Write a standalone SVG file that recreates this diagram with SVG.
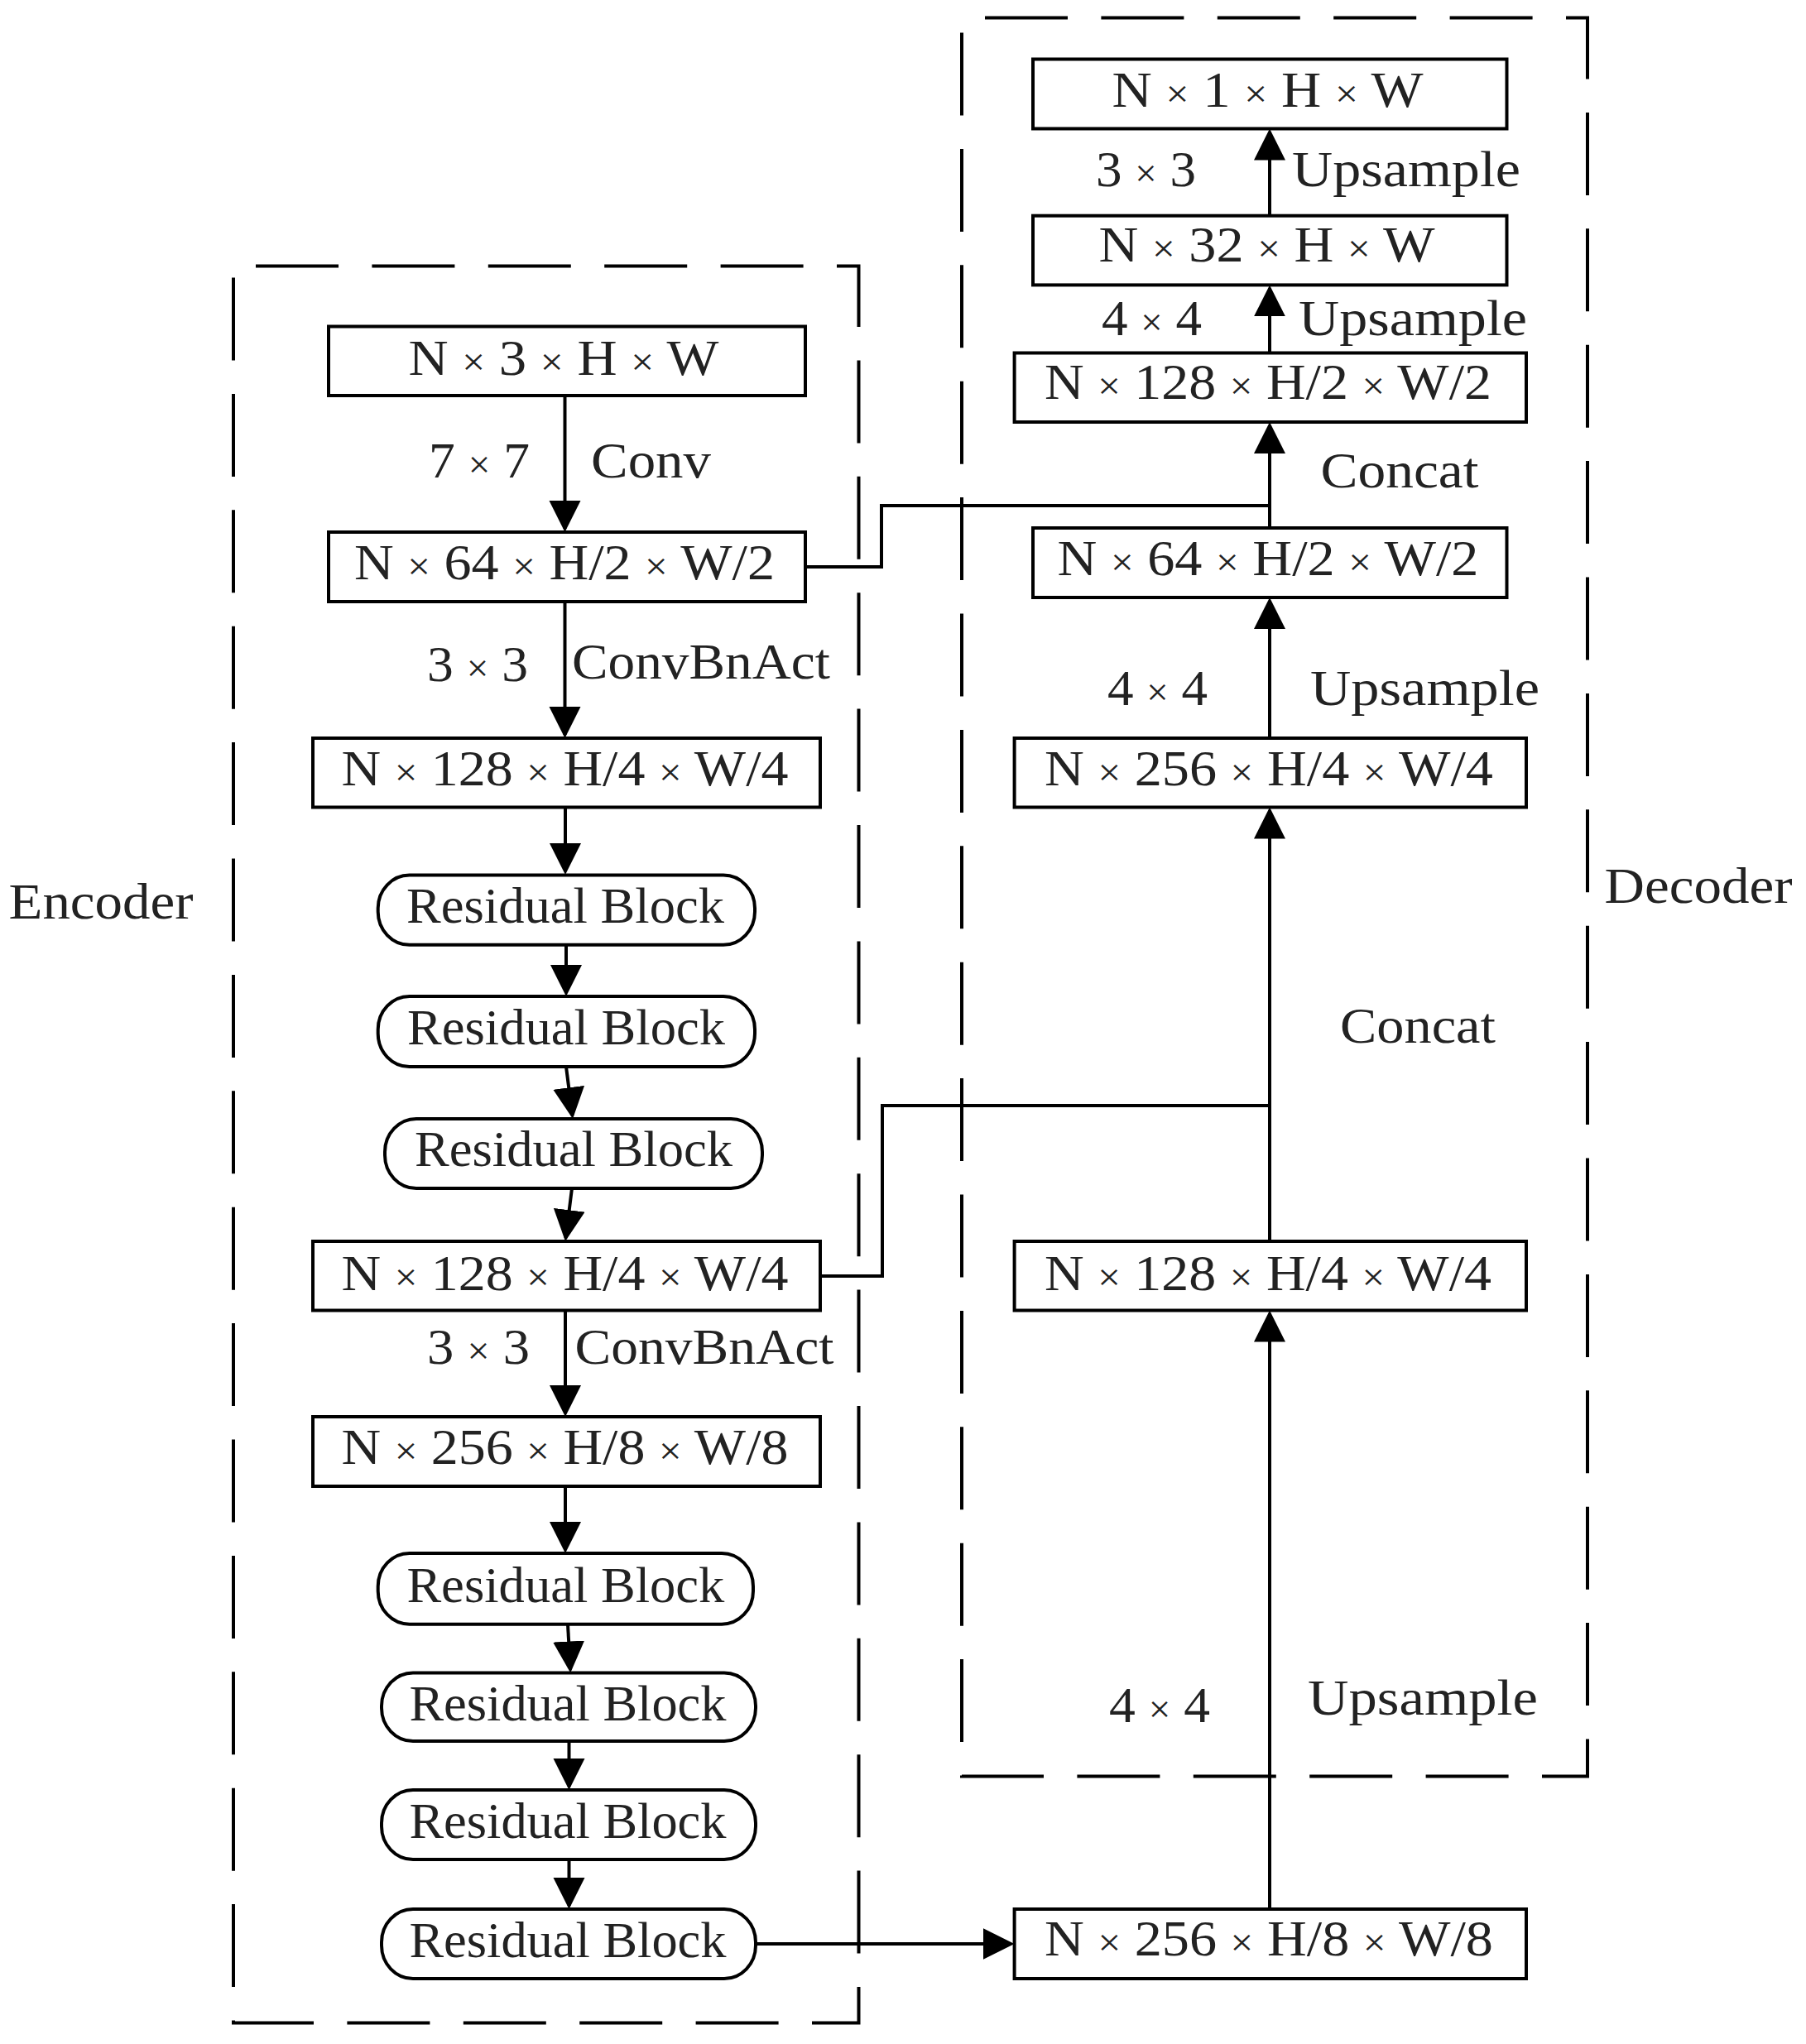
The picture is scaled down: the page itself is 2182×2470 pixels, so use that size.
<svg xmlns="http://www.w3.org/2000/svg" width="2182" height="2470" viewBox="0 0 2182 2470">
<style>
.bg{fill:#ffffff}
.box{fill:#ffffff;stroke:#000;stroke-width:4}
.rb{fill:#ffffff;stroke:#000;stroke-width:4}
.frame{fill:none;stroke:#000;stroke-width:4;stroke-dasharray:100 40.4}
.conn{fill:none;stroke:#000;stroke-width:4}
.t{font-family:"Liberation Serif","Times New Roman",serif;font-size:62px;fill:#222}
.m{text-anchor:middle}
.x{font-size:46px}
</style>
<defs>
<marker id="arr" markerUnits="userSpaceOnUse" markerWidth="40" markerHeight="40" refX="34" refY="19" orient="auto">
<path d="M0,0 L38,19 L0,38 Z" fill="#000"/>
</marker>
</defs>
<rect class="bg" x="0" y="0" width="2182" height="2470"/>

<g id="encoder-frame">
<path class="frame" d="M309,321.5 H1037.5 V2444.5 H282 V321.5"/>
<text class="t" x="10.5" y="1110" textLength="223" lengthAdjust="spacingAndGlyphs">Encoder</text>
</g>
<g id="decoder-frame">
<path class="frame" d="M1190,21.5 H1918 V2146.5 H1162 V21.5"/>
<text class="t" x="1938.5" y="1091" textLength="227" lengthAdjust="spacingAndGlyphs">Decoder</text>
</g>

<g id="connectors">
<path class="conn" d="M682.5,478 V639" marker-end="url(#arr)"/>
<path class="conn" d="M682.5,727 V888" marker-end="url(#arr)"/>
<path class="conn" d="M683,975.5 V1053" marker-end="url(#arr)"/>
<path class="conn" d="M684,1142 V1200" marker-end="url(#arr)"/>
<path class="conn" d="M684,1289 L691.5,1348" marker-end="url(#arr)"/>
<path class="conn" d="M691,1436 L683.5,1496" marker-end="url(#arr)"/>
<path class="conn" d="M683,1583.5 V1708" marker-end="url(#arr)"/>
<path class="conn" d="M683,1796 V1873" marker-end="url(#arr)"/>
<path class="conn" d="M686,1963 L689,2017.5" marker-end="url(#arr)"/>
<path class="conn" d="M687.5,2104 V2159" marker-end="url(#arr)"/>
<path class="conn" d="M687.5,2247 V2303" marker-end="url(#arr)"/>
<path class="conn" d="M913,2349 H1221.6" marker-end="url(#arr)"/>
<path class="conn" d="M1534,2307 V1587.5" marker-end="url(#arr)"/>
<path class="conn" d="M1534,1500 V979.5" marker-end="url(#arr)"/>
<path class="conn" d="M1534,892 V726" marker-end="url(#arr)"/>
<path class="conn" d="M1534,638 V514" marker-end="url(#arr)"/>
<path class="conn" d="M1534,426.5 V348.4" marker-end="url(#arr)"/>
<path class="conn" d="M1534,260.7 V159.6" marker-end="url(#arr)"/>
<path class="conn" d="M973,685 H1065 V611 H1534"/>
<path class="conn" d="M991,1542 H1066 V1336 H1534"/>
</g>

<g id="edge-labels">
<text class="t m" x="579" y="577" textLength="122" lengthAdjust="spacingAndGlyphs">7 <tspan class="x">×</tspan> 7</text>
<text class="t" x="714" y="577" textLength="145" lengthAdjust="spacingAndGlyphs">Conv</text>
<text class="t m" x="577" y="823" textLength="122" lengthAdjust="spacingAndGlyphs">3 <tspan class="x">×</tspan> 3</text>
<text class="t" x="691" y="820" textLength="312" lengthAdjust="spacingAndGlyphs">ConvBnAct</text>
<text class="t m" x="578" y="1648" textLength="124" lengthAdjust="spacingAndGlyphs">3 <tspan class="x">×</tspan> 3</text>
<text class="t" x="694.5" y="1648" textLength="313" lengthAdjust="spacingAndGlyphs">ConvBnAct</text>
<text class="t m" x="1384.5" y="225" textLength="121" lengthAdjust="spacingAndGlyphs">3 <tspan class="x">×</tspan> 3</text>
<text class="t" x="1561" y="225" textLength="276" lengthAdjust="spacingAndGlyphs">Upsample</text>
<text class="t m" x="1391.5" y="405" textLength="121" lengthAdjust="spacingAndGlyphs">4 <tspan class="x">×</tspan> 4</text>
<text class="t" x="1569" y="405" textLength="276" lengthAdjust="spacingAndGlyphs">Upsample</text>
<text class="t" x="1595.5" y="589" textLength="191" lengthAdjust="spacingAndGlyphs">Concat</text>
<text class="t m" x="1398.5" y="852" textLength="121" lengthAdjust="spacingAndGlyphs">4 <tspan class="x">×</tspan> 4</text>
<text class="t" x="1583" y="852" textLength="277" lengthAdjust="spacingAndGlyphs">Upsample</text>
<text class="t" x="1619" y="1260" textLength="188" lengthAdjust="spacingAndGlyphs">Concat</text>
<text class="t m" x="1401" y="2081" textLength="122" lengthAdjust="spacingAndGlyphs">4 <tspan class="x">×</tspan> 4</text>
<text class="t" x="1580" y="2072" textLength="278" lengthAdjust="spacingAndGlyphs">Upsample</text>
</g>

<g id="e1"><rect class="box" x="397" y="394.5" width="576" height="83.5"/><text class="t m" x="681" y="452.5" textLength="375" lengthAdjust="spacingAndGlyphs">N <tspan class="x">×</tspan> 3 <tspan class="x">×</tspan> H <tspan class="x">×</tspan> W</text></g>
<g id="e2"><rect class="box" x="397" y="643" width="576" height="84"/><text class="t m" x="682" y="700" textLength="508" lengthAdjust="spacingAndGlyphs">N <tspan class="x">×</tspan> 64 <tspan class="x">×</tspan> H/2 <tspan class="x">×</tspan> W/2</text></g>
<g id="e3"><rect class="box" x="378" y="892" width="613" height="83.5"/><text class="t m" x="682.5" y="949" textLength="540" lengthAdjust="spacingAndGlyphs">N <tspan class="x">×</tspan> 128 <tspan class="x">×</tspan> H/4 <tspan class="x">×</tspan> W/4</text></g>
<g id="rb1"><rect class="rb" x="456.7" y="1057.6" width="455.3" height="84.2" rx="38" ry="40"/><text class="t m" x="683" y="1115" textLength="384" lengthAdjust="spacingAndGlyphs">Residual Block</text></g>
<g id="rb2"><rect class="rb" x="456.7" y="1204" width="455.3" height="85" rx="38" ry="40"/><text class="t m" x="684" y="1262" textLength="384" lengthAdjust="spacingAndGlyphs">Residual Block</text></g>
<g id="rb3"><rect class="rb" x="465" y="1352" width="456" height="84" rx="38" ry="40"/><text class="t m" x="693" y="1409" textLength="384" lengthAdjust="spacingAndGlyphs">Residual Block</text></g>
<g id="e4"><rect class="box" x="378" y="1500" width="613" height="83.5"/><text class="t m" x="682.5" y="1559" textLength="540" lengthAdjust="spacingAndGlyphs">N <tspan class="x">×</tspan> 128 <tspan class="x">×</tspan> H/4 <tspan class="x">×</tspan> W/4</text></g>
<g id="e5"><rect class="box" x="378" y="1712" width="613" height="84"/><text class="t m" x="682.5" y="1769" textLength="540" lengthAdjust="spacingAndGlyphs">N <tspan class="x">×</tspan> 256 <tspan class="x">×</tspan> H/8 <tspan class="x">×</tspan> W/8</text></g>
<g id="rb4"><rect class="rb" x="456.7" y="1877" width="453.3" height="85.7" rx="38" ry="40"/><text class="t m" x="683.4" y="1936" textLength="384" lengthAdjust="spacingAndGlyphs">Residual Block</text></g>
<g id="rb5"><rect class="rb" x="461" y="2021.5" width="452" height="82.5" rx="38" ry="40"/><text class="t m" x="686" y="2079" textLength="383" lengthAdjust="spacingAndGlyphs">Residual Block</text></g>
<g id="rb6"><rect class="rb" x="461" y="2163" width="452" height="84" rx="38" ry="40"/><text class="t m" x="686" y="2221" textLength="383" lengthAdjust="spacingAndGlyphs">Residual Block</text></g>
<g id="rb7"><rect class="rb" x="461" y="2307" width="452" height="84" rx="38" ry="40"/><text class="t m" x="686" y="2365" textLength="383" lengthAdjust="spacingAndGlyphs">Residual Block</text></g>

<g id="d1"><rect class="box" x="1248" y="71.5" width="572.5" height="84"/><text class="t m" x="1531.6" y="128.6" textLength="376" lengthAdjust="spacingAndGlyphs">N <tspan class="x">×</tspan> 1 <tspan class="x">×</tspan> H <tspan class="x">×</tspan> W</text></g>
<g id="d2"><rect class="box" x="1248" y="260.7" width="572.5" height="83.7"/><text class="t m" x="1530.6" y="316.3" textLength="406" lengthAdjust="spacingAndGlyphs">N <tspan class="x">×</tspan> 32 <tspan class="x">×</tspan> H <tspan class="x">×</tspan> W</text></g>
<g id="d3"><rect class="box" x="1225.6" y="426.5" width="618.4" height="83.5"/><text class="t m" x="1532" y="482" textLength="540" lengthAdjust="spacingAndGlyphs">N <tspan class="x">×</tspan> 128 <tspan class="x">×</tspan> H/2 <tspan class="x">×</tspan> W/2</text></g>
<g id="d4"><rect class="box" x="1248" y="638" width="572.5" height="84"/><text class="t m" x="1532" y="695" textLength="509" lengthAdjust="spacingAndGlyphs">N <tspan class="x">×</tspan> 64 <tspan class="x">×</tspan> H/2 <tspan class="x">×</tspan> W/2</text></g>
<g id="d5"><rect class="box" x="1225.6" y="892" width="618.4" height="83.5"/><text class="t m" x="1533" y="949" textLength="542" lengthAdjust="spacingAndGlyphs">N <tspan class="x">×</tspan> 256 <tspan class="x">×</tspan> H/4 <tspan class="x">×</tspan> W/4</text></g>
<g id="d6"><rect class="box" x="1225.6" y="1500" width="618.4" height="83.5"/><text class="t m" x="1532" y="1559" textLength="540" lengthAdjust="spacingAndGlyphs">N <tspan class="x">×</tspan> 128 <tspan class="x">×</tspan> H/4 <tspan class="x">×</tspan> W/4</text></g>
<g id="d7"><rect class="box" x="1225.6" y="2307" width="618.4" height="84"/><text class="t m" x="1533" y="2363" textLength="542" lengthAdjust="spacingAndGlyphs">N <tspan class="x">×</tspan> 256 <tspan class="x">×</tspan> H/8 <tspan class="x">×</tspan> W/8</text></g>
</svg>
